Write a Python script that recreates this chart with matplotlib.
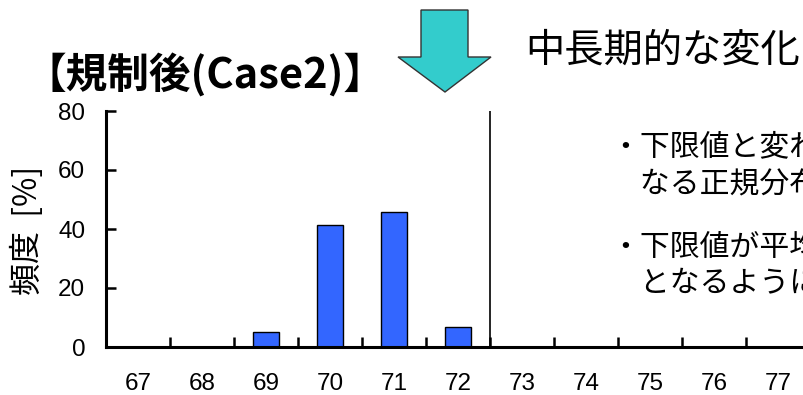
import numpy as np
import matplotlib
matplotlib.use("Agg")
import matplotlib.pyplot as plt
from matplotlib.patches import Polygon

jp = ['Noto Sans CJK JP', 'DejaVu Sans']
plt.rcParams['font.family'] = jp

# data
categories = [67, 68, 69, 70, 71, 72, 73, 74, 75, 76, 77]
freq = [0, 0, 5.2, 41.4, 45.9, 6.9, 0, 0, 0, 0, 0]
yticks = [0, 20, 40, 60, 80]
title = '【規制後(Case2)】'
subtitle = '中長期的な変化'
ylabel = '頻度  [%]'
notes = [
    '・下限値と変わらない平均値と',
    '　なる正規分布を仮定',
    '・下限値が平均値の下限',
    '　となるように設定',
]

fig = plt.figure(figsize=(8.04, 3.95), dpi=100)
W, H = 804, 395


def fx(px):
    return px / W


def fy(py):
    return 1 - py / H


ax = fig.add_axes([fx(106), fy(347), 1 - fx(106), (347 - 111) / H])
ax.bar(categories, freq, width=0.41, color='#3366FF', edgecolor='black',
       linewidth=1.0, zorder=3)
ax.axvline(72.5, color='black', lw=1.2, zorder=2)

ax.spines['top'].set_visible(False)
ax.spines['right'].set_visible(False)
ax.spines['left'].set_linewidth(2.2)
ax.spines['bottom'].set_linewidth(2.2)
ax.spines['left'].set_zorder(4)
ax.spines['bottom'].set_zorder(4)

ax.set_yticks(yticks)
ax.set_yticklabels([str(v) for v in yticks], family='Liberation Sans', fontsize=17.5)
ax.tick_params(axis='y', direction='in', length=7, width=1.8, pad=15)

ax.set_xticks(categories)
ax.set_xticklabels([str(c) for c in categories], family='Liberation Sans', fontsize=17.5)
ax.tick_params(axis='x', which='major', length=0, pad=19)
ax.set_xticks([66.5] + list(np.array(categories) + 0.5), minor=True)
ax.tick_params(axis='x', which='minor', direction='in', length=7, width=1.8)

# limits last, set_xticks would widen them
ax.set_xlim(66.5, 66.5 + 698 / 64)
ax.set_ylim(0, 80)

fig.text(fx(27), fy(230), ylabel, rotation=90, ha='center', va='center', fontsize=23)

fig.text(fx(205), fy(76), title, ha='center', va='center', fontsize=30,
         fontweight='bold')
fig.text(fx(525), fy(51), subtitle, ha='left', va='center', fontsize=28.3)

note_y = [147, 185, 247, 284]
for txt, yy in zip(notes, note_y):
    fig.text(fx(610), fy(yy), txt, ha='left', va='center', fontsize=21.5)

# big down arrow
arrow_px = [(421, 10), (468, 10), (468, 57), (491, 57), (445, 92), (398, 57), (421, 57)]
arrow = Polygon([(fx(x), fy(y)) for x, y in arrow_px], closed=True,
                transform=fig.transFigure, facecolor='#33CCCC', edgecolor='#333333',
                linewidth=1.0)
fig.patches.append(arrow)

fig.savefig('out.png', dpi=100)
